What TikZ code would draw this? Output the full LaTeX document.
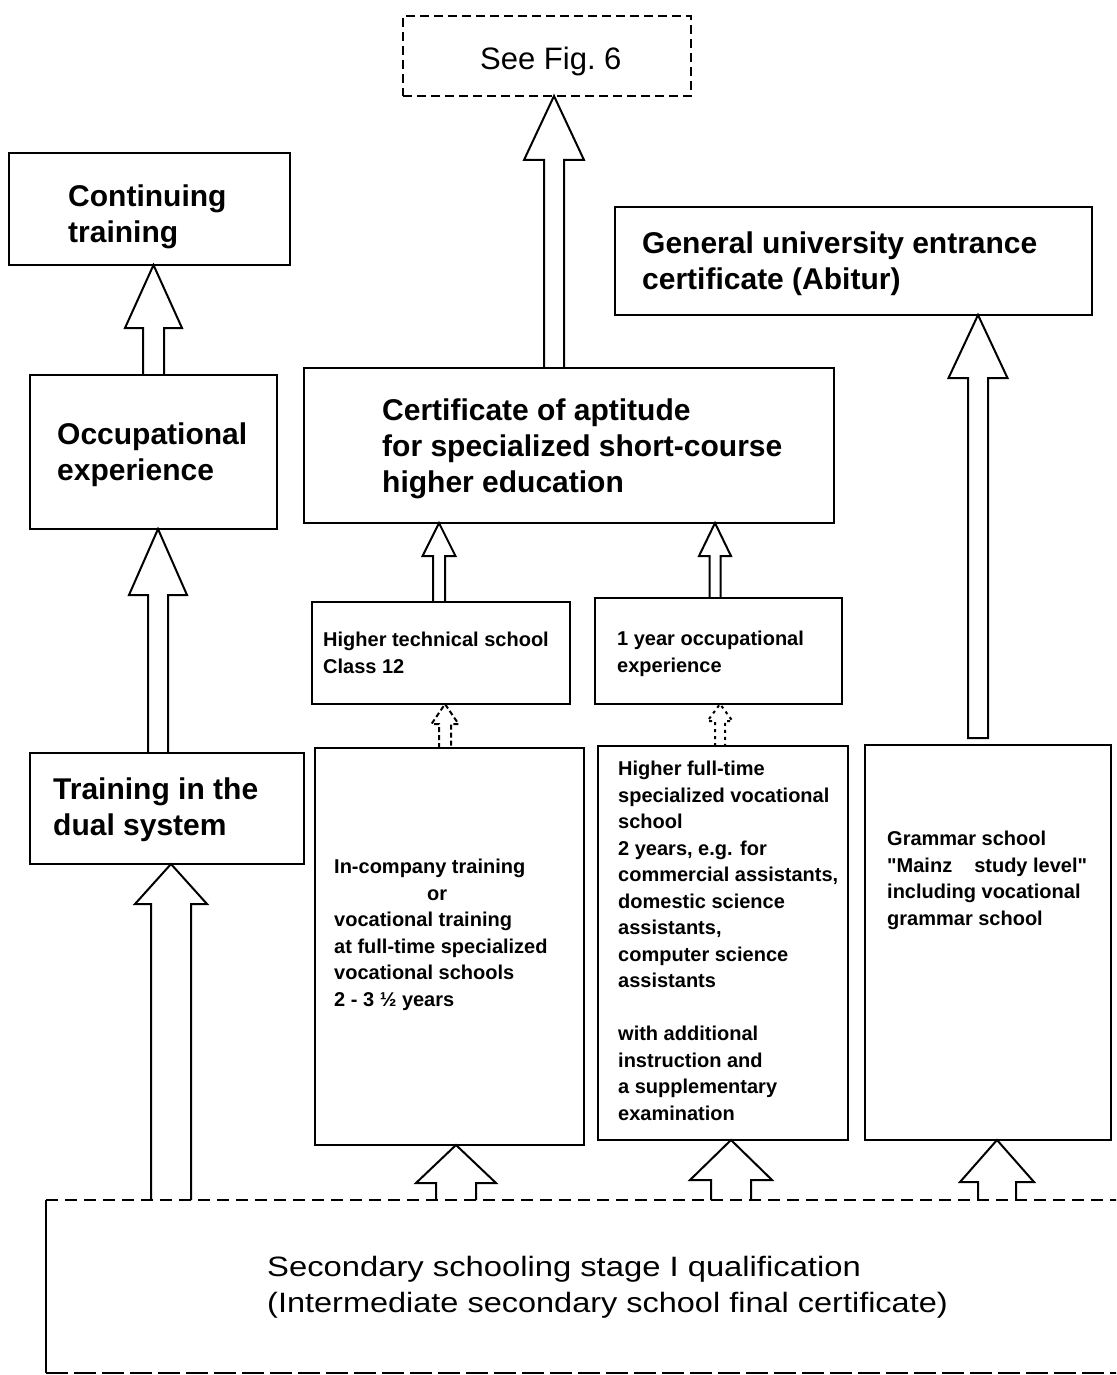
\documentclass[tikz,border=0pt]{standalone}
\usepackage{fontspec}
\usepackage{graphicx}
\setmainfont{Liberation Sans}
\usetikzlibrary{calc}

% framed box from its two corners (x to the right, y downwards)
\newcommand\frameat[6][]{%
  \node[box,#1,minimum width={(#5)-(#3)},minimum height={(#6)-(#4)}]
    (#2) at ({((#3)+(#5))/2},{-((#4)+(#6))/2}) {};}

% hollow upward block arrow from the top of #2 to the bottom of #3
% #4 axis x, #5 shaft half width, #6 head half width, #7 head length
\newcommand\upblock[7][]{%
  \draw[blockarrow,#1]
    ($(#4,0 |- #2.north)+(-#5,0)$) --
    ($(#4,0 |- #3.south)+(-#5,-#7)$) --
    ($(#4,0 |- #3.south)+(-#6,-#7)$) --
    (#4,0 |- #3.south) --
    ($(#4,0 |- #3.south)+(#6,-#7)$) --
    ($(#4,0 |- #3.south)+(#5,-#7)$) --
    ($(#4,0 |- #2.north)+(#5,0)$);}

\tikzset{
  box/.style={draw, rectangle, line width=2.8pt, inner sep=0pt, outer sep=0pt},
  dashbox/.style={dash pattern=on 9pt off 5pt, line width=2.6pt},
  blockarrow/.style={line width=2pt, line join=miter},
  bigtext/.style={anchor=north west, inner sep=0pt, align=left,
    font=\fontsize{30}{36}\selectfont\bfseries},
  smalltext/.style={anchor=north west, inner sep=0pt, align=left,
    font=\fontsize{20}{26.5}\selectfont\bfseries},
  basetext/.style={anchor=north west, inner sep=0pt, align=left,
    font=\fontsize{28}{36}\selectfont},
}

\begin{document}
\begin{tikzpicture}[x=1pt,y=1pt]
\useasboundingbox (0,0) rectangle (1116,-1375);
\clip (0,0) rectangle (1116,-1375);
\fill[white] (0,0) rectangle (1116,-1375);

% ---- boxes ----
\frameat[dashbox]{fig}{403}{16}{691}{96}
\frameat{cont}{9}{153}{290}{265}
\frameat{occ}{30}{375}{277}{529}
\frameat{cert}{304}{368}{834}{523}
\frameat{abitur}{615}{207}{1092}{315}
\frameat{htech}{312}{602}{570}{704}
\frameat{oneyear}{595}{598}{842}{704}
\frameat{dual}{30}{753}{304}{864}
\frameat{incomp}{315}{748}{584}{1145}
\frameat{fulltime}{598}{746}{848}{1140}
\frameat{gram}{865}{745}{1111}{1140}

% lower box runs on past the right edge
\node[rectangle, inner sep=0pt, outer sep=0pt, minimum width=1200pt, minimum height=173pt]
  (sec) at (646,-1286.5) {};
\draw[line width=2.4pt, dash pattern=on 12pt off 7pt] (sec.north west) -- (sec.north east);
\draw[line width=2.6pt] (sec.north west) -- (sec.south west);
\draw[line width=2.4pt, dash pattern=on 22pt off 6pt] (sec.south west) -- (sec.south east);

% ---- texts ----
\node[font=\fontsize{31}{36}\selectfont, inner sep=0pt, anchor=north west] (t-fig) at (480,-47) {See Fig.~6};
\node[bigtext] (t-cont) at (68,-185) {Continuing\\training};
\node[bigtext] (t-occ) at (57,-423) {Occupational\\experience};
\node[bigtext] (t-cert) at (382,-399) {Certificate of aptitude\\for specialized short-course\\higher education};
\node[bigtext] (t-abitur) at (642,-232) {General university entrance\\certificate (Abitur)};
\node[bigtext] (t-dual) at (53,-778) {Training in the\\dual system};

\node[smalltext] (t-htech) at (323,-632) {Higher technical school\\Class 12};
\node[smalltext] (t-oneyear) at (617,-631) {1 year occupational\\experience};
\node[smalltext] (t-incomp) at (334,-859) {In-company training\\\hspace*{93pt}or\\vocational training\\at full-time specialized\\vocational schools\\2 - 3 ½ years};
\node[smalltext] (t-fulltime) at (618,-761) {Higher full-time\\specialized vocational\\school\\2 years, e.g. for\\commercial assistants,\\domestic science\\assistants,\\computer science\\assistants\\[26.5pt]with additional\\instruction and\\a supplementary\\examination};
\node[smalltext] (t-gram) at (887,-831) {Grammar school\\\textquotedbl Mainz\hspace*{22pt}study level\textquotedbl\\including vocational\\grammar school};

\node[basetext] (t-sec) at (267,-1256)
  {\scalebox{1.17}[1]{Secondary schooling stage I qualification}\\
   \scalebox{1.16}[1]{(Intermediate secondary school final certificate)}};

% ---- connectors ----
\upblock{occ}{cont}{153.5}{10.5}{28.5}{63}
\upblock{dual}{occ}{158}{10}{29}{66}
\upblock{sec}{dual}{171}{20}{36}{40}
\upblock{cert}{fig}{554}{10}{30}{64}
\upblock{htech}{cert}{439}{6}{16.5}{33}
\upblock{oneyear}{cert}{715}{5.5}{16}{33}
\upblock[dash pattern=on 5pt off 3pt]{incomp}{htech}{445}{6}{13.5}{20}
\upblock[dash pattern=on 3pt off 4pt]{fulltime}{oneyear}{720}{5}{12.5}{17}
\upblock{sec}{incomp}{456}{20}{40}{38}
\upblock{sec}{fulltime}{731}{20}{41}{40}
\upblock{sec}{gram}{997}{19}{37}{42}

% Abitur arrow: its shaft is closed just above the grammar school box
\draw[blockarrow]
  ($(978,0 |- gram.north)+(-10,7)$) --
  ($(978,0 |- abitur.south)+(-10,-63)$) --
  ($(978,0 |- abitur.south)+(-29.5,-63)$) --
  (978,0 |- abitur.south) --
  ($(978,0 |- abitur.south)+(29.5,-63)$) --
  ($(978,0 |- abitur.south)+(10,-63)$) --
  ($(978,0 |- gram.north)+(10,7)$) -- cycle;
\end{tikzpicture}
\end{document}
